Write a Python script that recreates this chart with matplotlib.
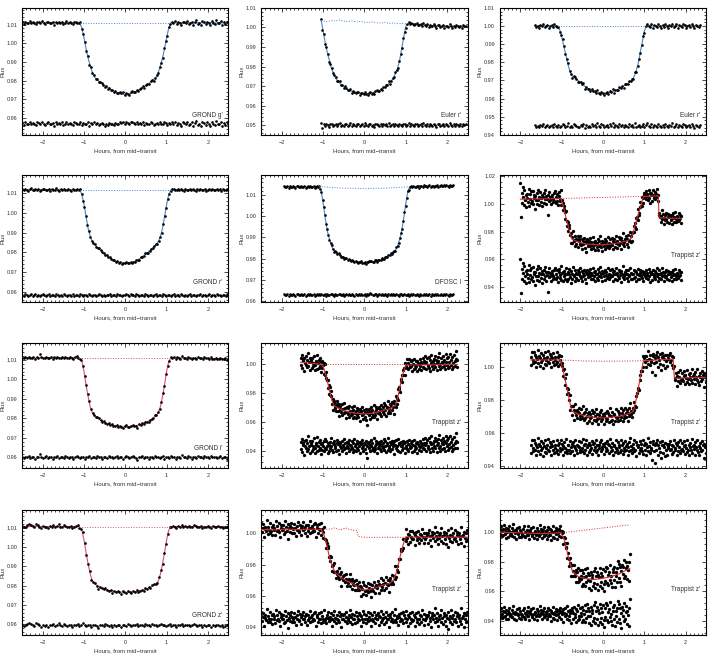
import numpy as np
import matplotlib
matplotlib.use('Agg')
import matplotlib.pyplot as plt
from matplotlib.ticker import MultipleLocator, FormatStrFormatter

plt.rcParams['font.family'] = ['Liberation Sans', 'DejaVu Sans']

# ---------------- data ----------------
# each light curve: time span, residuals (in 'unit' of flux), model line, baseline (dotted)

# 1  GROND g'
g_span = (-2.5, 2.5)
g_unit, g_off = 3.5e-4, 0.957
g_res = [1,-2,2,0,-1,3,-1,1,0,-2,2,1,-1,3,0,-2,1,2,-1,0,1,-3,2,0,1,-1,2,-2,0,3,
         -1,1,0,-2,2,1,-1,0,3,-2,1,0,-1,2,-3,1,0,2,-1,1,-2,0,1,-1,-3,0,-2,1,-1,0,
         -2,1,-1,0,2,1,3,0,2,1,-1,2,3,1,0,2,-1,1,0,2,-2,1,0,-1,2,1,-2,0,1,-1,
         2,0,-1,3,1,-2,1,0,2,-1,3,-2,1,0,-3,2,1,-1,3,-2,0,2,-3,1,4,-2,0,-3,3,1,
         -2,2,-1,-3,3,0,-2,4,-1,0,3,-3,1,-2,2,0]
g_mt = [-2.5,-1.1,-1.05,-1.0,-0.95,-0.9,-0.85,-0.8,-0.75,-0.6,-0.4,-0.2,0,0.2,0.4,0.6,0.75,0.8,0.85,0.9,0.95,1.0,1.05,1.1,2.5]
g_mf = [1.011,1.011,1.008,1.003,0.997,0.992,0.988,0.9845,0.982,0.979,0.976,0.9735,0.9725,0.9735,0.976,0.979,0.982,0.9845,0.988,0.992,0.997,1.003,1.008,1.011,1.011]
g_bt, g_bf = [-1.1, 1.1], [1.011, 1.011]

# 2  Euler r' (first)
e1_span = (-1.05, 2.45)
e1_unit, e1_off = 3.5e-4, 0.950
e1_res = [3,-4,1,-2,2,0,-3,1,2,-1,0,2,-2,1,3,-1,0,-2,2,1,-1,0,3,-2,1,0,-1,2,1,-2,
          0,1,-1,3,0,-2,1,2,-1,0,-3,1,2,0,-1,1,-2,2,0,1,-1,3,-2,0,1,-1,2,0,-2,1,
          0,-1,2,1,-2,0,3,-1,1,0,-2,1,2,-1,0,1,-2,3,0,-1,2,-2,1,0,-1,2,0,-3,1,2,
          -1,0,2,-2,1,0,-1,3,0,-2,1,-1,2,0,-1,1,-2,2,0,1]
e1_mt = [-1.05,-1.0,-0.95,-0.9,-0.85,-0.8,-0.7,-0.6,-0.4,-0.2,0,0.2,0.4,0.6,0.7,0.8,0.85,0.9,0.95,1.0,1.05,1.3,1.6,1.9,2.2,2.45]
e1_mf = [1.0035,0.998,0.992,0.987,0.983,0.979,0.974,0.9715,0.968,0.9665,0.966,0.9665,0.968,0.9715,0.974,0.979,0.983,0.989,0.995,1.0005,1.002,1.0015,1.001,1.0005,1.0005,1.0005]
e1_bt = [-1.05,-0.9,-0.8,-0.7,-0.6,-0.5,-0.4,-0.3,-0.2,-0.1,0,0.1,0.2,0.3,0.4,0.5,0.6,0.7,0.8,0.9,1.0,1.05]
e1_bf = [1.0035,1.003,1.0035,1.0033,1.0038,1.0032,1.003,1.0034,1.0028,1.0031,1.0027,1.0025,1.0029,1.0024,1.0022,1.0026,1.002,1.0023,1.0019,1.0021,1.0018,1.002]

# 3  Euler r' (second)
e2_span = (-1.65, 2.35)
e2_unit, e2_off = 4.5e-4, 0.945
e2_res = [1,-1,0,-2,1,0,2,-1,0,1,-2,0,1,-1,2,0,-1,1,-2,0,2,1,-1,0,3,-1,0,-2,2,1,
          0,-2,-1,1,0,2,-3,1,-1,0,-2,2,0,1,-1,3,0,-1,2,1,-2,0,1,-1,2,0,3,-2,1,0,
          -1,2,0,1,-2,1,0,-1,2,0,1,-1,3,-2,0,1,-1,0,2,-2,1,3,0,-1,2,-2,1,0,-1,2,
          0,-2,1,-1,2,0,-2,1,0,3,-1,0,2,-2,1,0,-1,2,1,-2,0,1,-1,2,0,-3,1,0,-1,1]
e2_mt = [-1.65,-1.1,-1.05,-1.0,-0.95,-0.9,-0.85,-0.8,-0.75,-0.6,-0.4,-0.2,0,0.2,0.4,0.6,0.7,0.75,0.8,0.85,0.9,0.95,1.0,1.05,2.35]
e2_mf = [1.0,1.0,0.998,0.994,0.989,0.984,0.979,0.975,0.9725,0.970,0.966,0.9635,0.9625,0.9635,0.9655,0.9685,0.970,0.972,0.975,0.979,0.985,0.991,0.997,1.0,1.0]
e2_bt, e2_bf = [-1.1, 1.05], [1.0, 1.0]

# 4  GROND r'
r_span = (-2.5, 2.5)
r_unit, r_off = 2.5e-4, 0.9585
r_res = [1,-1,2,0,-2,1,3,-1,0,2,-1,1,-2,0,2,1,-1,0,2,-2,1,0,-1,3,0,-2,1,-1,2,0,
         -1,1,0,-2,2,-1,0,1,-1,2,0,-2,1,0,-1,2,1,-1,0,1,-2,0,2,1,-1,0,-2,1,0,2,
         -1,0,1,-1,2,0,1,-2,0,1,3,0,-1,2,0,1,-1,2,0,-2,1,0,-1,2,1,-2,0,1,-1,0,
         2,-1,0,1,-2,2,0,-1,1,0,-2,1,2,-1,0,1,-1,2,0,-2,1,-1,0,2,-1,1,0,-2,1,0,
         2,-1,0,1,-2,0,2,-1,1,0,-1,2,0,1,-2,1,0,-1,2,0]
r_mt = [-2.5,-1.1,-1.05,-1.0,-0.95,-0.9,-0.85,-0.8,-0.75,-0.6,-0.4,-0.2,0,0.2,0.4,0.6,0.75,0.8,0.85,0.9,0.95,1.0,1.05,1.1,2.5]
r_mf = [1.0115,1.0115,1.009,1.004,0.998,0.992,0.988,0.9855,0.984,0.981,0.9775,0.975,0.9745,0.975,0.9775,0.981,0.984,0.9855,0.988,0.992,0.998,1.004,1.009,1.0115,1.0115]
r_bt, r_bf = [-1.1, 1.1], [1.0115, 1.0115]

# 5  DFOSC I
d_span = (-1.95, 2.15)
d_unit, d_off = 2.5e-4, 0.963
d_res = [2,-1,0,1,-2,1,0,-1,2,0,-2,1,1,-1,0,2,-1,0,1,-2,0,1,-1,2,0,-1,1,-2,0,1,
         -1,2,0,1,-1,0,2,-2,1,0,-1,1,2,0,-2,1,0,-1,2,1,-1,0,1,-2,0,2,-1,1,0,-1,
         1,0,-2,2,0,-1,1,0,2,-1,0,1,-2,1,0,2,3,1,-1,0,2,1,-2,0,1,-1,2,0,-1,1,
         0,-2,1,0,2,-1,1,0,-1,2,0,-2,1,1,-1,0,2,-1,0,1,-2,0,1,-1,2,0,-1,1,0,-2,
         1,0,-1,2,0,1,-1,0,2,-2,1,0,-1,1,0,2,-1,0,1,-1,0,2,-1,1,0,-2,1,0,-1,1]
d_mt = [-1.95,-1.1,-1.05,-1.0,-0.95,-0.9,-0.85,-0.8,-0.75,-0.6,-0.4,-0.2,0,0.2,0.4,0.6,0.75,0.8,0.85,0.9,0.95,1.0,1.05,1.1,2.15]
d_mf = [1.014,1.014,1.012,1.006,0.999,0.993,0.989,0.986,0.984,0.9815,0.9795,0.9785,0.978,0.9785,0.9795,0.9815,0.984,0.986,0.989,0.993,0.999,1.006,1.012,1.014,1.0145]
d_bt, d_bf = [-1.1,-0.5,0,0.5,1.1], [1.014,1.0133,1.0131,1.0133,1.014]

# 6  Trappist z' (a)
t1_span = (-2.0, 1.9)
t1_unit, t1_off = 5e-4, 0.9485
t1_res = [24,-26,9,-5,18,3,-9,13,-2,6,-12,8,1,-4,15,-10,0,7,-6,11,
          -3,12,-8,2,5,-14,4,-1,9,-7,13,-2,-9,3,10,-4,1,-11,6,2,
          -6,8,-1,12,-8,4,0,-24,5,-3,10,-2,3,-8,1,6,-5,-1,8,-4,
          11,-6,2,-3,7,-10,4,9,-4,0,13,-7,3,-9,5,-1,6,1,-5,10,
          -8,2,4,-6,1,9,-3,-11,6,2,-5,12,-2,0,7,-8,3,-4,2,8,
          -7,1,5,-2,10,-4,-9,6,3,-1,0,8,-6,4,-11,2,7,-3,1,5,
          -2,9,-6,3,0,-5,11,-1,4,-8,6,1,-4,2,9,-7,5,-2,12,-3,
          1,6,-9,3,4,-2,-7,8,0,5,-4,10,-1,-6,2,7,-3,0,9,-2,
          4,-8,2,6,-5,1,11,-7,3,-2,8,-4,0,5,-10,6,2,-3,13,-1,
          -6,4,1,8,-4,2,-9,7,0,-2,10,-5,3,-6,2,1,8,-4,6,-3,
          -8,4,2,-5,9,0,-6,3,8,-2,-4,6,1,-9,5,2,-1,7,-4,0,
          3,-6,9,-2,5,-10,1,4,-7,2,8,-3,0,6,-5,3,-1,10,-8,2,
          -4,7,1,-6,3,11,-2,5,-9,0,4,-3,8,-1,-5,2,6,-7,3,1,
          5,-3,-8,4,0,7,-5,2,9,-1,-6,3,1,-4,8,-2,5,0,-7,4]
t1_mt = [-2.0,-1.02,-0.95,-0.88,-0.8,-0.75,-0.6,-0.4,-0.2,0,0.2,0.4,0.6,0.68,0.75,0.82,0.9,0.98,1.34,1.36,1.9]
t1_mf = [1.0035,1.004,0.997,0.988,0.979,0.9745,0.9725,0.971,0.9705,0.9705,0.971,0.972,0.9735,0.975,0.981,0.989,0.997,1.0055,1.006,0.990,0.9895]
t1_bt, t1_bf = [-1.02, 0.98], [1.004, 1.0055]

# 7  GROND i'
i_span = (-2.5, 2.5)
i_unit, i_off = 3e-4, 0.960
i_res = [0,-1,1,0,2,-1,0,1,-2,1,0,6,1,-1,0,2,-1,0,1,-2,1,0,2,-1,0,1,-1,2,0,-1,
         1,0,-2,1,3,0,-1,1,0,-2,1,0,2,-1,0,1,-1,2,1,0,-2,1,0,-1,2,0,1,-1,0,2,
         -1,1,0,-2,1,3,0,-1,1,2,0,-1,-4,1,0,2,-1,1,0,-2,1,0,-1,2,0,1,-1,0,2,-2,
         1,0,-1,2,0,1,-2,1,0,-1,4,0,1,-1,2,0,-2,1,0,-1,2,1,0,-1,3,1,0,-1,2,0,
         0,1,-1,0,2,-1,0,1,-2,0]
i_mt = [-2.5,-1.12,-1.05,-1.0,-0.95,-0.9,-0.85,-0.8,-0.75,-0.6,-0.4,-0.2,0,0.2,0.4,0.6,0.75,0.8,0.85,0.9,0.95,1.0,1.05,1.1,2.5]
i_mf = [1.011,1.011,1.009,1.004,0.997,0.991,0.986,0.983,0.9815,0.979,0.977,0.976,0.9757,0.976,0.977,0.979,0.9815,0.983,0.986,0.991,0.997,1.004,1.009,1.011,1.0105]
i_bt, i_bf = [-1.12, 1.1], [1.011, 1.011]

# 8  Trappist z' (b)
t2_span = (-1.55, 2.25)
t2_unit, t2_off = 5e-4, 0.943
t2_res = [6,-4,10,-8,2,5,-12,7,0,-3,9,-6,4,14,-4,1,7,-10,2,5,
          -6,8,0,-4,11,-2,-9,4,2,-7,13,1,-5,6,-2,9,-11,3,4,-5,
          1,7,-6,10,-3,-4,8,0,-9,5,2,-7,6,-2,0,11,-5,4,-8,3,
          7,-2,1,-6,9,4,-5,3,-11,6,0,5,-3,8,-7,2,1,-4,10,-2,
          4,-9,6,0,-3,5,-7,9,2,-4,1,7,-2,-8,4,10,-5,0,3,-6,
          8,-3,5,-5,1,6,-10,3,4,-2,9,-7,0,5,-4,3,7,-9,1,-16,
          4,-2,6,-7,2,0,9,-5,4,-3,-6,11,1,-4,7,3,-9,5,-2,0,
          6,-4,3,8,-7,1,5,-2,10,-5,0,7,-8,2,4,-5,12,-3,1,6,
          -6,3,8,-4,0,5,-11,7,2,-3,9,-5,1,10,-7,4,3,-8,6,0,
          -5,2,7,-3,4,-9,6,1,-2,8,-4,3,-6,9,0,-3,5,-1,7,-8,
          2,-6,9,0,-4,5,-2,6,-9,3,1,-5,8,-1,4,-7,2,10,-3,5,
          -4,12,2,-6,4,9,-2,0,11,-4,6,-8,3,14,-2,5,-6,8,1,12,
          -3,7,2,-8,10,5,-2,16,1,-6,9,4,-4,12,3,-2,7,-6,14,4,
          0,9,-5,11,3,-3,15,-1,6,-7,10,2,-4,13,5,-2,8,18,-3,6]
t2_mt = [-1.55,-1.02,-0.95,-0.88,-0.8,-0.75,-0.6,-0.4,-0.2,0,0.2,0.4,0.6,0.75,0.82,0.9,0.98,1.02,2.25]
t2_mf = [1.0015,1.0,0.994,0.986,0.976,0.9715,0.969,0.967,0.966,0.9655,0.966,0.9675,0.969,0.9715,0.979,0.990,0.998,0.9995,1.0]
t2_bt, t2_bf = [-1.02, 1.0], [1.0, 1.0]

# 9  Trappist z' (c)
t3_span = (-1.75, 2.5)
t3_unit, t3_off = 5e-4, 0.951
t3_res = [4,-6,9,0,-4,10,-2,6,-8,3,1,12,-4,5,-7,2,8,-2,0,-10,
          6,2,-5,9,0,-6,4,11,-3,-4,7,1,-9,5,2,-2,8,-6,4,0,
          -5,10,-2,3,-7,6,0,-4,9,-1,5,-8,2,7,0,-5,11,-2,-6,4,
          3,-2,8,-6,1,5,-4,7,2,-9,0,10,-3,4,-6,2,1,8,-5,-2,
          7,-4,0,11,-6,3,5,-2,9,-8,1,4,-5,6,3,-2,0,8,-7,5,
          -3,6,1,-5,10,-2,4,-8,3,0,7,-4,9,-1,1,5,-7,2,6,-4,
          0,8,-2,5,-6,3,11,-4,1,6,-3,-8,4,2,-5,9,0,-2,7,-6,
          4,1,-5,10,-2,3,-7,6,0,-4,8,2,-3,5,-9,1,7,-4,12,-2,
          2,-6,5,0,9,-4,-2,7,-10,3,4,1,-6,8,-2,5,0,-4,10,-7,
          3,6,-2,-8,5,1,12,-4,2,-6,7,-2,0,-14,5,8,-4,3,-18,6,
          -2,10,-8,4,0,-5,7,-12,3,8,-6,4,1,-10,6,-2,5,-8,2,0,
          5,-3,8,-1,-7,4,2,-5,9,-2,0,6,-9,3,-4,7,1,-6,10,-3,
          -1,6,-4,2,8,-7,3,0,-5,9,-2,4,-8,1,6,-3,11,-6,2,-1,
          4,-8,7,1,-3,10,-5,2,-9,6,0,-4,8,-2,3,-12,5,1,-6,4]
t3_mt = [-1.75,-1.04,-0.96,-0.88,-0.8,-0.75,-0.6,-0.4,-0.2,0,0.2,0.4,0.6,0.74,0.82,0.9,0.98,1.7,1.73,2.5]
t3_mf = [1.004,1.004,0.997,0.988,0.978,0.973,0.9715,0.970,0.9695,0.969,0.9695,0.970,0.9715,0.973,0.982,0.993,1.0035,1.0045,0.993,0.9935]
t3_bt, t3_bf = [-1.04,-0.5,0,0.5,0.98], [1.004,1.0034,1.0032,1.0033,1.0035]

# 10 GROND z'
z_span = (-2.5, 2.5)
z_unit, z_off = 4e-4, 0.9595
z_res = [1,-1,0,2,3,2,1,-1,3,2,0,-2,1,-1,0,-2,1,0,2,-1,1,3,0,-1,2,1,-1,0,1,-2,
         0,1,2,-1,0,3,1,-1,0,1,-2,0,1,-1,-3,1,0,-1,2,0,-1,1,-2,0,-1,1,0,-2,1,0,
         -1,2,0,-1,1,0,2,-1,0,1,-1,2,0,1,-1,2,1,0,-1,1,2,0,1,-1,0,2,-1,1,0,-2,
         1,0,2,-1,1,0,1,-1,0,2,1,-1,0,1,-2,0,-1,1,0,-2,1,-1,0,1,-1,0,-2,-1,0,1]
z_mt = [-2.5,-1.12,-1.05,-1.0,-0.95,-0.9,-0.85,-0.8,-0.75,-0.6,-0.4,-0.2,0,0.2,0.4,0.6,0.75,0.8,0.85,0.9,0.95,1.0,1.05,1.1,2.5]
z_mf = [1.0105,1.0105,1.0085,1.0035,0.997,0.991,0.986,0.9825,0.981,0.979,0.9775,0.9768,0.9765,0.9768,0.9775,0.979,0.981,0.9825,0.986,0.991,0.997,1.0035,1.0085,1.0105,1.0105]
z_bt, z_bf = [-1.12, 1.1], [1.0105, 1.0105]

# 11 Trappist z' (d)
t4_span = (-2.5, 2.5)
t4_unit, t4_off = 5e-4, 0.9455
t4_res = [8,-3,2,7,-10,1,4,-2,12,-5,3,0,-4,9,-1,4,-7,6,0,3,
          -6,11,-2,5,0,-3,8,-9,2,6,-1,0,5,-6,10,-4,3,-2,7,-12,
          1,4,-3,8,-5,2,0,-4,7,2,-8,5,-1,10,-2,-3,6,-7,2,4,
          -1,9,0,-4,3,6,-8,5,-2,1,10,-5,2,4,-3,0,7,-2,8,-10,
          5,2,-4,7,0,-1,8,-6,3,0,-5,11,-2,1,-6,4,1,8,-3,2,
          -2,7,-9,0,4,-3,10,1,-6,0,5,-2,9,-4,3,6,-11,0,4,-1,
          6,-3,2,9,-6,1,-2,4,11,-4,2,-7,6,0,-1,5,-6,8,3,-4,
          0,7,-2,4,-9,3,0,10,-5,6,-1,-6,5,0,8,-3,2,-2,7,-10,
          5,0,-3,8,1,-6,4,-1,0,7,-8,3,2,-5,10,-2,1,6,-7,2,
          -4,9,0,-1,5,-11,6,2,-3,0,8,-5,4,-2,12,-4,1,3,-8,6,
          2,-3,7,0,-2,9,-6,4,1,-4,10,-1,-9,4,2,-6,7,0,-3,8,
          -2,5,-10,2,7,-4,0,8,-1,-7,4,3,-4,11,0,-8,6,-2,5,1,
          3,-7,5,9,-3,1,-11,7,3,-1,5,-5,13,1,-3,7,-9,3,-1,5,
          -5,11,1,-7,3,7,-3,-9,5,1,-13,9,-1,3,-5,11,-7,1,5,-3,
          9,-1,-5,3,7,-9,1,5,-3,13,-7,1,3,-11,7,-1,5,-5,9,-3]
t4_mt = [-2.5,-2.2,-1.9,-1.6,-1.3,-1.05,-0.98,-0.92,-0.85,-0.78,-0.7,-0.5,-0.3,-0.1,0,0.2,0.4,0.6,0.7,0.76,0.82,0.88,0.94,1.0,1.5,2.0,2.5]
t4_mf = [1.0025,1.0022,1.0028,1.0024,1.0027,1.0025,0.999,0.993,0.985,0.979,0.9745,0.9705,0.968,0.9645,0.9638,0.9645,0.9665,0.968,0.970,0.974,0.980,0.987,0.993,0.9978,0.9975,0.9977,0.9976]
t4_bt = [-1.05,-0.8,-0.75,-0.7,-0.6,-0.5,-0.45,-0.4,-0.3,-0.18,-0.15,0.0,1.0]
t4_bf = [1.0025,1.0028,1.0035,1.0033,1.0022,1.003,1.0035,1.0028,1.0022,1.0018,0.998,0.9975,0.9975]

# 12 Trappist z' (e)
t5_span = (-2.5, 0.65)
t5_unit, t5_off = 5e-4, 0.9445
t5_res = [4,-3,8,-5,1,5,-4,10,-2,3,-7,6,0,4,-6,2,9,-3,1,-2,
          6,-4,2,11,-6,0,3,-8,2,7,-1,0,8,-5,4,-6,1,-1,-3,6,
          -4,9,2,-6,1,4,-2,10,-3,2,-8,5,0,7,-1,-4,8,1,-6,3,
          2,-2,7,-8,4,0,-3,11,-1,2,6,-6,1,5,-4,9,-2,0,3,-7,
          5,8,-3,0,6,-2,-9,4,2,-5,10,1,-6,3,7,-1,4,-8,0,6,
          -4,3,9,-6,1,5,-10,7,2,-3,8,-1,0,11,-6,4,-2,-8,6,2,
          -12,5,8,-6,2,10,-4,1,-10,7,4,-8,12,-2,-6,9,-3,2,-11,10,
          6,-8,1,12,-10,4,-5,14,-2,8,-12,5,-3,10,-14,6,2,-9,12,-5,
          16,-12,4,-7,10,-15,6,2,-10,14,-5,8,-13,3,12,-8,-17,9,-4,15,
          -8,13,3,-11,7,-4,16,-9,1,-14,10,5,-6,12,-16,4,-2,9,-10,18,
          14,-6,-12,8,2,-18,10,-3,6,-9,15,-7,3,11,-13,5,-1,-16,9,20]
t5_mt = [-2.5,-2.0,-1.5,-1.02,-0.95,-0.88,-0.8,-0.74,-0.6,-0.4,-0.2,0,0.2,0.4,0.65]
t5_mf = [1.0,0.9995,0.999,0.9995,0.996,0.988,0.979,0.9735,0.970,0.9685,0.968,0.9688,0.970,0.972,0.9755]
t5_bt, t5_bf = [-1.02,-0.5,0,0.65], [0.9995,1.0012,1.0028,1.005]

labels = ["GROND g'", "Euler r'", "Euler r'", "GROND r'", "DFOSC I", "Trappist z'",
          "GROND i'", "Trappist z'", "Trappist z'", "GROND z'", "Trappist z'", "Trappist z'"]

# ---------------- layout / style ----------------
blue = '#4a86c4'
red = '#d42a2a'
pink = '#e0506a'

panels = [
    (g_span, g_res, g_unit, g_off, g_mt, g_mf, g_bt, g_bf, (0.951, 1.019), 0.01, blue),
    (e1_span, e1_res, e1_unit, e1_off, e1_mt, e1_mf, e1_bt, e1_bf, (0.945, 1.010), 0.01, blue),
    (e2_span, e2_res, e2_unit, e2_off, e2_mt, e2_mf, e2_bt, e2_bf, (0.940, 1.010), 0.01, blue),
    (r_span, r_res, r_unit, r_off, r_mt, r_mf, r_bt, r_bf, (0.955, 1.019), 0.01, blue),
    (d_span, d_res, d_unit, d_off, d_mt, d_mf, d_bt, d_bf, (0.9595, 1.0195), 0.01, blue),
    (t1_span, t1_res, t1_unit, t1_off, t1_mt, t1_mf, t1_bt, t1_bf, (0.929, 1.021), 0.02, red),
    (i_span, i_res, i_unit, i_off, i_mt, i_mf, i_bt, i_bf, (0.9547, 1.0187), 0.01, pink),
    (t2_span, t2_res, t2_unit, t2_off, t2_mt, t2_mf, t2_bt, t2_bf, (0.928, 1.015), 0.02, red),
    (t3_span, t3_res, t3_unit, t3_off, t3_mt, t3_mf, t3_bt, t3_bf, (0.939, 1.0143), 0.02, red),
    (z_span, z_res, z_unit, z_off, z_mt, z_mf, z_bt, z_bf, (0.9545, 1.0191), 0.01, pink),
    (t4_span, t4_res, t4_unit, t4_off, t4_mt, t4_mf, t4_bt, t4_bf, (0.935, 1.015), 0.02, red),
    (t5_span, t5_res, t5_unit, t5_off, t5_mt, t5_mf, t5_bt, t5_bf, (0.9305, 1.015), 0.02, red),
]

lefts = [0.031, 0.366, 0.700]
bottoms = [0.795, 0.541, 0.289, 0.035]
heights = [0.193, 0.193, 0.190, 0.190]
width = 0.289
txt = '#333333'

fig = plt.figure(figsize=(7.14, 6.58), dpi=100)

for k, (span, res, unit, off, mt, mf, bt, bf, ylim, ystep, col) in enumerate(panels):
    row, c = divmod(k, 3)
    ax = fig.add_axes([lefts[c], bottoms[row], width, heights[row]])
    trap = labels[k].startswith('Trappist')

    t = np.linspace(span[0], span[1], len(res))
    r = np.array(res) * unit
    flux = np.interp(t, mt, mf) + r

    ms = 2.4 if trap else 1.9
    ax.plot(t, flux, 'o', ms=ms, mew=0, color='black', zorder=2)
    ax.plot(t, r + off, 'o', ms=ms, mew=0, color='black', zorder=2)
    ax.plot(bt, bf, ':', lw=0.7, color=col, zorder=3)
    ax.plot(mt, mf, '-', lw=0.8, color=col, zorder=4 if trap else 1)

    ax.set_xlim(-2.5, 2.5)
    ax.set_ylim(*ylim)
    ax.xaxis.set_major_locator(MultipleLocator(1))
    ax.xaxis.set_minor_locator(MultipleLocator(0.1))
    ax.yaxis.set_major_locator(MultipleLocator(ystep))
    ax.yaxis.set_minor_locator(MultipleLocator(ystep / 5))
    ax.yaxis.set_major_formatter(FormatStrFormatter('%.2f'))
    ax.tick_params(which='both', direction='in', top=True, right=True,
                   labelsize=4.0, labelcolor=txt, width=0.5)
    ax.tick_params(which='major', length=3)
    ax.tick_params(which='minor', length=1.5)
    ax.tick_params(axis='x', pad=3.5)
    ax.tick_params(axis='y', pad=3.5)
    for s in ax.spines.values():
        s.set_linewidth(0.8)

    ax.set_xlabel('Hours, from mid\u2212transit', fontsize=4.3, color=txt, labelpad=2.5)
    ax.set_ylabel('Flux', fontsize=4.3, color=txt, labelpad=1)
    ly = 0.365 if trap else 0.155
    ax.text(0.97, ly, labels[k], transform=ax.transAxes, ha='right', va='center',
            fontsize=4.7, color=txt)

fig.savefig('out.png', dpi=100)
